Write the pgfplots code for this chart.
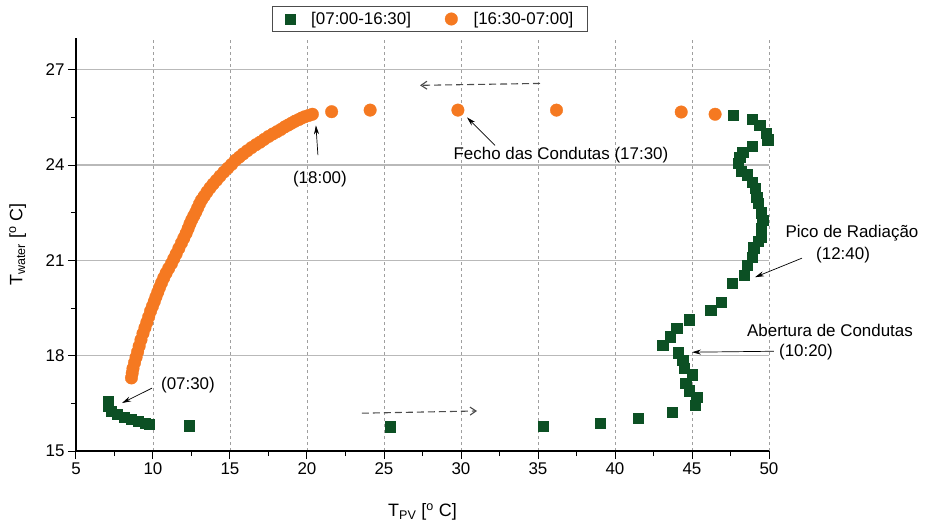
\documentclass[border=0pt]{standalone}
\usepackage{fontspec}
\setmainfont{Liberation Sans}
\usepackage{pgfplots}
\pgfplotsset{compat=1.18}
\usetikzlibrary{arrows.meta}
\definecolor{dgreen}{RGB}{12,80,36}
\definecolor{orng}{RGB}{245,121,33}
\newcommand{\annot}{\fontsize{17}{20}\selectfont}
\begin{document}
\begin{tikzpicture}
\path[use as bounding box] (-76bp,-75bp) rectangle (849bp,451bp);
\begin{axis}[
  at={(0,0)}, anchor=south west, scale only axis,
  width=693bp, height=413bp,
  xmin=5, xmax=50, ymin=15, ymax=28,
  axis x line*=bottom, axis y line*=left,
  axis line style={line width=1.2bp, -},
  xtick={5,10,...,50}, ytick={15,18,21,24,27},
  minor xtick={7.5,12.5,...,47.5}, minor ytick={16.5,19.5,22.5,25.5},
  tick align=outside,
  major tick length=8bp, minor tick length=5bp,
  every tick/.style={line width=1bp, black},
  xmajorgrids, ymajorgrids,
  x grid style={dash pattern=on 3bp off 3bp, color=gray!75, line width=0.8bp},
  y grid style={solid, color=gray!55, line width=1.3bp},
  ticklabel style={font=\fontsize{17}{20}\selectfont},
  /pgf/number format/assume math mode=true,
  xlabel={T\textsubscript{PV} [\textsuperscript{o} C]},
  ylabel={T\textsubscript{water} [\textsuperscript{o} C]},
  xlabel style={font=\fontsize{18}{21}\selectfont, at={(axis description cs:0.5,-0.148)}, anchor=center},
  ylabel style={font=\fontsize{18}{21}\selectfont, at={(axis description cs:-0.084,0.5)}, anchor=center},
  clip=false,
  legend columns=2,
  legend style={at={(axis description cs:0.511,1.046)}, anchor=center,
    font=\fontsize{17}{20}\selectfont, draw=gray!60!black, line width=1.3bp,
    inner xsep=12bp, inner ysep=3.5bp,
    /tikz/every odd column/.append style={column sep=14bp},
    /tikz/every even column/.append style={column sep=32bp}},
  legend cell align=left,
]
\addplot[only marks, mark=square*, mark size=5.2bp, dgreen, mark options={fill=dgreen, draw=dgreen, line width=0.3bp}] coordinates {
(7.08,16.57) (7.08,16.42) (7.27,16.26) (7.66,16.16) (8.12,16.07) (8.57,16.01)
(9.03,15.94) (9.48,15.88) (9.74,15.85) (12.35,15.80) (25.39,15.77) (35.32,15.79)
(39.03,15.88) (41.49,16.04) (43.7,16.23) (45.2,16.45) (45.3,16.7) (44.8,16.9)
(44.6,17.14) (45.0,17.4) (44.5,17.6) (44.4,17.86) (44.1,18.1) (43.1,18.33)
(43.6,18.6) (44.0,18.86) (44.8,19.14) (46.2,19.43) (46.9,19.69) (47.6,20.28)
(48.4,20.53) (48.6,20.85) (48.9,21.1) (49.0,21.4) (49.3,21.6) (49.5,21.73)
(49.5,22.0) (49.6,22.26) (49.5,22.5) (49.3,22.8) (49.2,22.99) (49.1,23.27)
(48.9,23.46) (48.6,23.7) (48.2,23.8) (48.0,24.06) (48.1,24.25) (48.3,24.4)
(48.9,24.6) (49.9,24.8) (49.8,25.0) (49.4,25.25) (48.9,25.44) (47.66,25.57)
};
\addlegendentry{[07:00-16:30]}
\addplot[only marks, mark=*, mark size=6.3bp, orng, mark options={fill=orng, draw=orng, line width=0.3bp}] coordinates {
(8.6,17.3) (8.65,17.45) (8.7,17.6) (8.8,17.78) (8.9,17.95) (9.0,18.12)
(9.1,18.3) (9.22,18.5) (9.35,18.7) (9.48,18.88) (9.6,19.05) (9.72,19.22)
(9.84,19.4) (9.96,19.55) (10.08,19.7) (10.19,19.85) (10.31,20.0) (10.43,20.15)
(10.56,20.3) (10.7,20.45) (10.85,20.6) (11.02,20.75) (11.2,20.9) (11.35,21.05)
(11.5,21.2) (11.68,21.38) (11.85,21.55) (12.0,21.7) (12.15,21.85) (12.28,22.0)
(12.4,22.15) (12.52,22.28) (12.65,22.4) (12.78,22.52) (12.9,22.65) (13.02,22.78)
(13.15,22.9) (13.32,23.02) (13.5,23.15) (13.7,23.28) (13.9,23.4) (14.12,23.52)
(14.35,23.65) (14.6,23.78) (14.85,23.9) (15.1,24.02) (15.35,24.15) (15.6,24.25)
(15.85,24.35) (16.12,24.45) (16.4,24.55) (16.68,24.64) (16.95,24.72) (17.22,24.81)
(17.5,24.9) (17.78,24.98) (18.05,25.05) (18.3,25.12) (18.55,25.2) (18.78,25.26)
(19.0,25.32) (19.22,25.38) (19.45,25.43) (19.65,25.48) (19.85,25.52) (20.1,25.56)
(20.35,25.6)
(21.6,25.68) (24.1,25.73) (29.8,25.73) (36.2,25.73) (44.3,25.67) (46.5,25.6)
};
\addlegendentry{[16:30-07:00]}
% annotations
\node[font=\annot] at (axis cs:12.27,17.08) {(07:30)};
\draw[-{Stealth[length=9bp,width=5bp]}, line width=0.7bp] (axis cs:9.94,16.98) -- (axis cs:7.99,16.51);
\node[font=\annot] at (axis cs:20.84,23.55) {(18:00)};
\draw[-{Stealth[length=9bp,width=5bp]}, line width=0.7bp] (axis cs:20.71,24.31) -- (axis cs:20.58,25.25);
\node[font=\annot] at (axis cs:36.49,24.31) {Fecho das Condutas (17:30)};
\draw[-{Stealth[length=9bp,width=5bp]}, line width=0.7bp] (axis cs:32.21,24.62) -- (axis cs:30.39,25.50);
\node[font=\annot] at (axis cs:55.39,21.86) {Pico de Radiação};
\node[font=\annot] at (axis cs:54.81,21.16) {(12:40)};
\draw[-{Stealth[length=9bp,width=5bp]}, line width=0.7bp] (axis cs:52.14,21.07) -- (axis cs:49.09,20.47);
\node[font=\annot] at (axis cs:53.96,18.80) {Abertura de Condutas};
\node[font=\annot] at (axis cs:52.40,18.11) {(10:20)};
\draw[-{Stealth[length=9bp,width=5bp]}, line width=0.7bp] (axis cs:50.32,18.14) -- (axis cs:45.0,18.11);
\draw[gray!60!black, line width=1.1bp, dash pattern=on 7bp off 4bp, -{Straight Barb[length=6bp,width=8bp]}] (axis cs:35.13,26.57) -- (axis cs:27.34,26.51);
\draw[gray!60!black, line width=1.1bp, dash pattern=on 7bp off 4bp, -{Straight Barb[length=6bp,width=8bp]}] (axis cs:23.57,16.19) -- (axis cs:31.04,16.26);
\end{axis}
\end{tikzpicture}
\end{document}
